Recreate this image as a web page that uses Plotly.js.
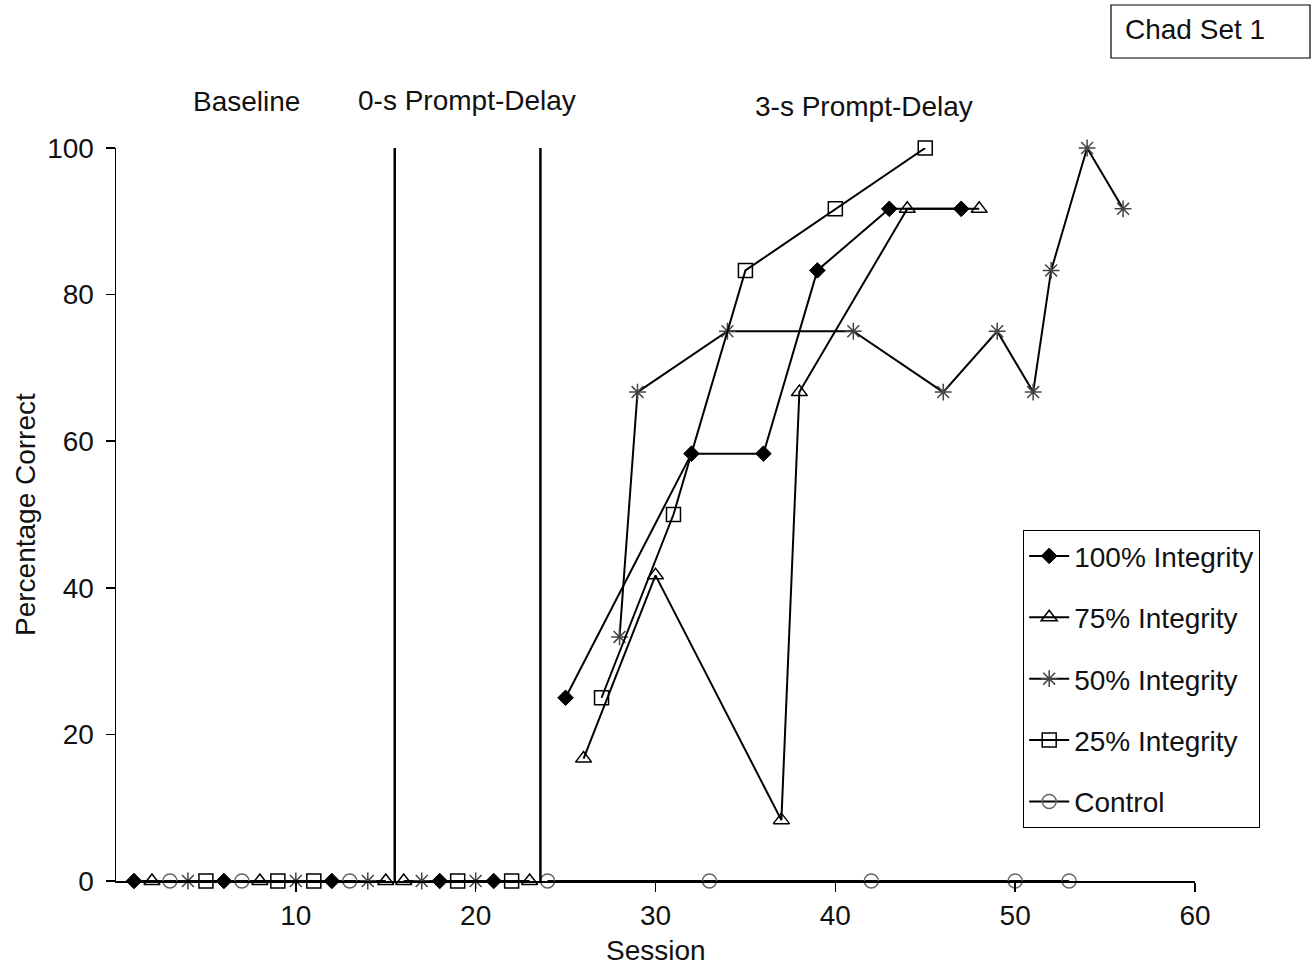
<!DOCTYPE html>
<html>
<head>
<meta charset="utf-8">
<script src="https://cdn.plot.ly/plotly-3.0.1.min.js"></script>
<style>html,body{margin:0;padding:0;background:#fff}#chart{width:1312px;height:968px}</style>
</head>
<body>
<div id="chart"></div>
<script>
// ---- Data (sessions and percentage correct), grouped by phase ----
const seriesNames = ["100% Integrity", "75% Integrity", "50% Integrity", "25% Integrity", "Control"];

// Baseline phase
const base100X = [1, 6, 12];   const base100Y = [0, 0, 0];
const base75X  = [2, 8, 15];   const base75Y  = [0, 0, 0];
const base50X  = [4, 10, 14];  const base50Y  = [0, 0, 0];
const base25X  = [5, 9, 11];   const base25Y  = [0, 0, 0];
const baseCtlX = [3, 7, 13];   const baseCtlY = [0, 0, 0];

// 0-s prompt-delay phase
const zero100X = [18, 21]; const zero100Y = [0, 0];
const zero75X  = [16, 23]; const zero75Y  = [0, 0];
const zero50X  = [17, 20]; const zero50Y  = [0, 0];
const zero25X  = [19, 22]; const zero25Y  = [0, 0];

// 3-s prompt-delay phase
const three100X = [25, 32, 36, 39, 43, 47];
const three100Y = [25, 58.3, 58.3, 83.3, 91.7, 91.7];
const three75X  = [26, 30, 37, 38, 44, 48];
const three75Y  = [16.7, 41.7, 8.3, 66.7, 91.7, 91.7];
const three50X  = [28, 29, 34, 41, 46, 49, 51, 52, 54, 56];
const three50Y  = [33.3, 66.7, 75, 75, 66.7, 75, 66.7, 83.3, 100, 91.7];
const three25X  = [27, 31, 35, 40, 45];
const three25Y  = [25, 50, 83.3, 91.7, 100];
const threeCtlX = [24, 33, 42, 50, 53];
const threeCtlY = [0, 0, 0, 0, 0];

// Phase change lines (between sessions)
const phaseChanges = [15.5, 23.6];
const phaseLabels = ["Baseline", "0-s Prompt-Delay", "3-s Prompt-Delay"];
const xTicks = [10, 20, 30, 40, 50, 60];
const yTicks = [0, 20, 40, 60, 80, 100];

// join phases with null gaps so lines break at phase changes
function joinPhases(parts) {
  const x = [], y = [];
  parts.forEach((p, i) => {
    if (i > 0) { x.push(null); y.push(null); }
    x.push(...p[0]); y.push(...p[1]);
  });
  return {x, y};
}

const seriesData = [
  joinPhases([[base100X, base100Y], [zero100X, zero100Y], [three100X, three100Y]]),
  joinPhases([[base75X, base75Y], [zero75X, zero75Y], [three75X, three75Y]]),
  joinPhases([[base50X, base50Y], [zero50X, zero50Y], [three50X, three50Y]]),
  joinPhases([[base25X, base25Y], [zero25X, zero25Y], [three25X, three25Y]]),
  joinPhases([[baseCtlX, baseCtlY], [threeCtlX, threeCtlY]])
];

const markerStyles = [
  {symbol: "diamond", size: 12, color: "#000", line: {color: "#000", width: 1}},
  {symbol: "triangle-up-open", size: 14, color: "#000", line: {color: "#000", width: 1.5}},
  {symbol: "asterisk-open", size: 14, color: "#444", line: {color: "#444", width: 1.5}},
  {symbol: "square-open", size: 14, color: "#000", line: {color: "#000", width: 1.5}},
  {symbol: "circle-open", size: 14, color: "#666", line: {color: "#666", width: 1.5}}
];

const traces = seriesData.map((d, i) => ({
  type: "scatter",
  mode: "lines+markers",
  name: seriesNames[i],
  legendgroup: "g" + i,
  x: d.x, y: d.y,
  connectgaps: false,
  cliponaxis: false,
  line: {color: "#000", width: 2},
  marker: markerStyles[i]
}));

const FONT = "Liberation Sans, Arial, sans-serif";
const FS = 28;
const L = 116, R = 117, T = 148, B = 87;
const PW = 1312 - L - R, PH = 968 - T - B;
const px = v => (v - L) / PW;        // pixel x -> paper x
const py = v => (968 - B - v) / PH;  // pixel y -> paper y

const shapes = phaseChanges.map(xv => ({
  type: "line", xref: "x", yref: "y", x0: xv, x1: xv, y0: 0, y1: 100,
  line: {color: "#000", width: 2.5}
}));
shapes.push({
  type: "rect", xref: "paper", yref: "paper",
  x0: px(1111), x1: px(1310), y0: py(58), y1: py(5),
  line: {color: "#000", width: 1.2}, fillcolor: "rgba(0,0,0,0)"
});

const annotations = [
  {text: phaseLabels[0], x: px(246), y: py(101)},
  {text: phaseLabels[1], x: px(467), y: py(100)},
  {text: phaseLabels[2], x: px(864), y: py(106)},
  {text: "Chad Set 1", x: px(1195), y: py(30)},
  {text: "Session", x: px(656), y: py(951)},
  {text: "Percentage Correct", x: px(25), y: py(515), textangle: -90}
].map(a => Object.assign({
  xref: "paper", yref: "paper", showarrow: false,
  xanchor: "center", yanchor: "middle",
  font: {family: FONT, size: FS, color: "#111"}
}, a));

const layout = {
  width: 1312, height: 968,
  margin: {l: L, r: R, t: T, b: B},
  paper_bgcolor: "#fff", plot_bgcolor: "#fff",
  font: {family: FONT, size: FS, color: "#111"},
  showlegend: true,
  legend: {
    x: px(1023), y: py(530), xanchor: "left", yanchor: "top",
    bgcolor: "#fff", bordercolor: "#000", borderwidth: 1.2,
    font: {family: FONT, size: FS, color: "#111"},
    tracegroupgap: 22, itemwidth: 40
  },
  xaxis: {
    range: [0, 60], tickvals: xTicks, ticktext: xTicks.map(String),
    showgrid: false, zeroline: false, showline: true,
    linecolor: "#000", linewidth: 1.5,
    ticks: "outside", ticklen: 9, tickwidth: 1.5, tickcolor: "#000",
    tickfont: {family: FONT, size: FS, color: "#111"}
  },
  yaxis: {
    range: [0, 100], tickvals: yTicks, ticktext: yTicks.map(String),
    showgrid: false, zeroline: false, showline: true,
    linecolor: "#000", linewidth: 1.5,
    ticks: "outside", ticklen: 9, tickwidth: 1.5, tickcolor: "#000",
    ticklabelstandoff: 6,
    tickfont: {family: FONT, size: FS, color: "#111"}
  },
  shapes: shapes,
  annotations: annotations
};

Plotly.newPlot("chart", traces, layout, {displayModeBar: false, staticPlot: true});
</script>
</body>
</html>
